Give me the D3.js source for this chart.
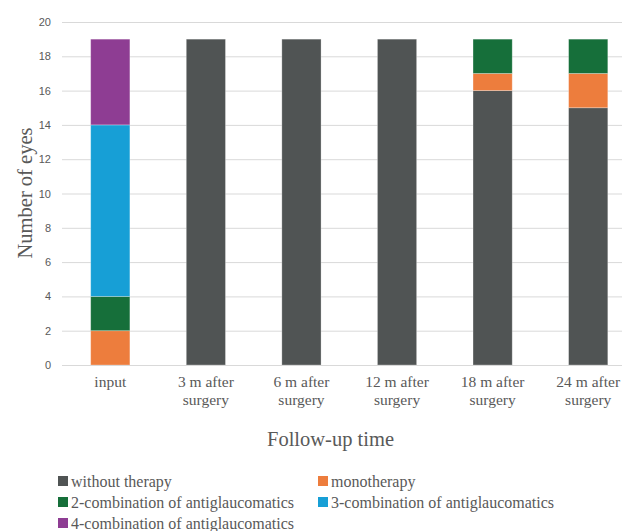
<!DOCTYPE html>
<html><head><meta charset="utf-8">
<script src="https://cdn.jsdelivr.net/npm/d3@7"></script>
<style>body{margin:0;background:#fff}svg{display:block}</style>
</head><body>
<script>
const categories = ["input", "3 m after surgery", "6 m after surgery", "12 m after surgery", "18 m after surgery", "24 m after surgery"];
const categoryLines = [["input"], ["3 m after", "surgery"], ["6 m after", "surgery"], ["12 m after", "surgery"], ["18 m after", "surgery"], ["24 m after", "surgery"]];
const seriesNames = ["without therapy", "monotherapy", "2-combination of antiglaucomatics", "3-combination of antiglaucomatics", "4-combination of antiglaucomatics"];
const withoutTherapy = [0, 19, 19, 19, 16, 15];
const monotherapy = [2, 0, 0, 0, 1, 2];
const combo2 = [2, 0, 0, 0, 2, 2];
const combo3 = [10, 0, 0, 0, 0, 0];
const combo4 = [5, 0, 0, 0, 0, 0];
const yTicks = [0, 2, 4, 6, 8, 10, 12, 14, 16, 18, 20];
const colors = ["#505454", "#ED7D3D", "#166F3A", "#179FD6", "#8E3D93"];

const SERIF = "'Liberation Serif', 'Times New Roman', serif";
const SANS = "'Liberation Sans', Arial, sans-serif";
const W = 622, H = 531;
const svg = d3.select("body").append("svg").attr("width", W).attr("height", H);
const seriesVals = [withoutTherapy, monotherapy, combo2, combo3, combo4];
const rows = categories.map((c, i) => {
  const o = {cat: c};
  seriesNames.forEach((s, j) => o[s] = seriesVals[j][i]);
  return o;
});
const stack = d3.stack().keys(seriesNames)(rows);

const x = d3.scaleBand().domain(categories).range([62.5, 636]).paddingInner(0.59).paddingOuter(0.295);
const y = d3.scaleLinear().domain([0, 20]).range([365, 22]);

const yAxis = svg.append("g").attr("transform", "translate(62,0)")
  .call(d3.axisLeft(y).tickValues(yTicks).tickSize(-(W - 62)).tickPadding(11));
yAxis.select(".domain").remove();
yAxis.selectAll(".tick line").attr("stroke", "#d9d9d9").attr("stroke-width", 1);
yAxis.attr("font-family", SANS).attr("font-size", 11);
yAxis.selectAll(".tick text").attr("fill", "#595959");

svg.append("g").selectAll("g").data(stack).join("g")
  .attr("fill", (d, i) => colors[i])
  .selectAll("rect").data(d => d).join("rect")
  .attr("x", d => x(d.data.cat))
  .attr("width", x.bandwidth())
  .attr("y", d => y(d[1]))
  .attr("height", d => y(d[0]) - y(d[1]))
  .attr("stroke", "rgba(255,255,255,0.35)").attr("stroke-width", 0.8);

const xAxis = svg.append("g").attr("transform", "translate(0,365)")
  .call(d3.axisBottom(x).tickSize(0).tickFormat(""));
xAxis.select(".domain").attr("stroke", "#d9d9d9").attr("d", `M62,0.5H${W}`);
categories.forEach((c, i) => {
  const cx = x(c) + x.bandwidth() / 2;
  const t = svg.append("text").attr("x", cx).attr("y", 387)
    .attr("text-anchor", "middle").attr("fill", "#595959")
    .attr("font-family", SERIF).attr("font-size", 15.5);
  categoryLines[i].forEach((l, k) => t.append("tspan").attr("x", cx).attr("dy", k === 0 ? 0 : 18).text(l));
});

svg.append("text").attr("transform", "translate(32,193) rotate(-90)").attr("text-anchor", "middle")
  .attr("fill", "#595959").attr("font-family", SERIF).attr("font-size", 20.5)
  .text("Number of eyes");
svg.append("text").attr("x", 330.5).attr("y", 446).attr("text-anchor", "middle")
  .attr("fill", "#595959").attr("font-family", SERIF).attr("font-size", 20.5)
  .text("Follow-up time");

const legPos = [[58, 481], [318, 481], [58, 502], [318, 502], [58, 523]];
const leg = svg.append("g").selectAll("g").data(seriesNames).join("g")
  .attr("transform", (d, i) => `translate(${legPos[i][0]},${legPos[i][1]})`);
leg.append("rect").attr("x", 0).attr("y", -5).attr("width", 10).attr("height", 10).attr("fill", (d, i) => colors[i]);
leg.append("text").attr("x", 13).attr("y", 6).attr("fill", "#595959")
  .attr("font-family", SERIF).attr("font-size", 16).text(d => d);
</script>
</body></html>
